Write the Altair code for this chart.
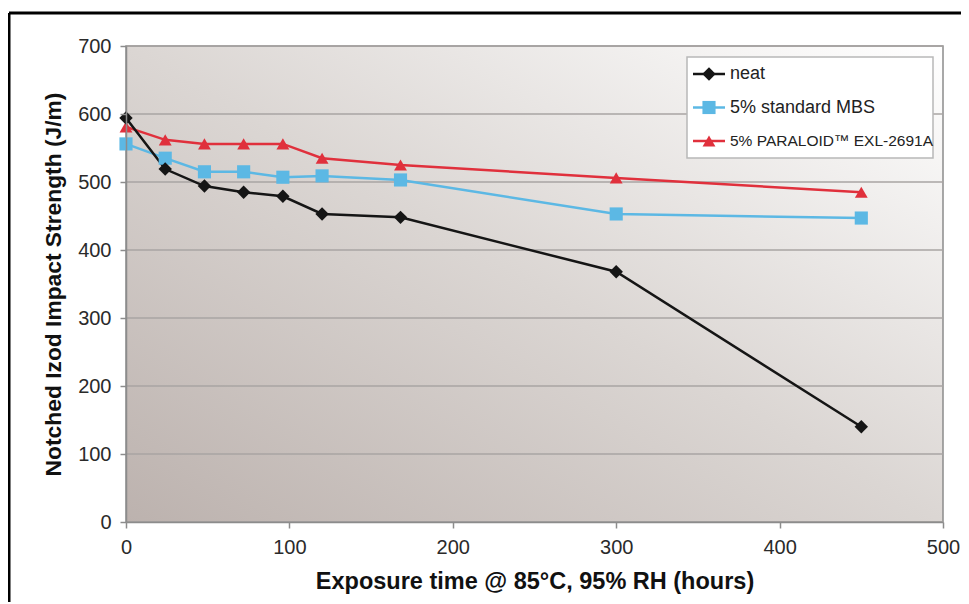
import altair as alt
import pandas as pd

# ---- data ----
hours = [0, 24, 48, 72, 96, 120, 168, 300, 450]
neat = [594, 519, 494, 485, 479, 453, 448, 368, 140]
mbs = [556, 535, 515, 515, 507, 509, 503, 453, 447]
paraloid = [581, 562, 556, 556, 556, 535, 525, 506, 485]

series = ["neat", "5% standard MBS", "5% PARALOID™ EXL-2691A"]
colors = ["#151515", "#5cb8e4", "#e0303c"]
shapes = ["diamond", "square", "triangle-up"]
marker_sizes = [180, 165, 240]

x_ticks = [0, 100, 200, 300, 400, 500]
y_ticks = [0, 100, 200, 300, 400, 500, 600, 700]

x_title = "Exposure time @ 85°C, 95% RH (hours)"
y_title = "Notched Izod Impact Strength (J/m)"

# ---- tables ----
rows = []
for name, vals in [(series[2], paraloid), (series[1], mbs), (series[0], neat)]:
    for h, v in zip(hours, vals):
        rows.append({"series": name, "hours": h, "value": v})
df = pd.DataFrame(rows)
grid_df = pd.DataFrame({"tick": y_ticks})
leg_df = pd.DataFrame({"series": series})
one = pd.DataFrame({"k": [0]})

W, H = 817, 476
FONT = "Liberation Sans"

color = alt.Color("series:N", scale=alt.Scale(domain=series, range=colors), legend=None)
shape = alt.Shape("series:N", scale=alt.Scale(domain=series, range=shapes), legend=None)
size = alt.Size("series:N", scale=alt.Scale(domain=series, range=marker_sizes), legend=None)

xs = alt.X("hours:Q", scale=alt.Scale(domain=[0, 500], nice=False),
           axis=alt.Axis(values=x_ticks, title=x_title, grid=False, labelPadding=9,
                         titlePadding=12, titleFontSize=23.5, zindex=1, labelFlush=False))
ys = alt.Y("value:Q", scale=alt.Scale(domain=[0, 700], nice=False),
           axis=alt.Axis(values=y_ticks, title=y_title, grid=False, labelPadding=9,
                         titlePadding=12, titleFontSize=22.8, zindex=1))

gradient = {
    "gradient": "linear", "x1": 0, "y1": 1, "x2": 1, "y2": 0,
    "stops": [
        {"offset": 0, "color": "#bcb2ae"},
        {"offset": 0.5, "color": "#dbd6d3"},
        {"offset": 1, "color": "#ffffff"},
    ],
}

bg = alt.Chart(one).mark_rect(color=gradient, stroke="#8c8c8c", strokeWidth=1.5).encode(
    x=alt.value(0), x2=alt.value(W), y=alt.value(0), y2=alt.value(H))

grid = alt.Chart(grid_df).mark_rule(color="#a8a5a3", strokeWidth=1.5).encode(
    y=alt.Y("tick:Q"), x=alt.value(0), x2=alt.value(W))

lines = alt.Chart(df).mark_line(strokeWidth=2.5).encode(
    x=xs, y=ys, color=color, detail="series:N", order="hours:Q")

points = alt.Chart(df).mark_point(filled=True, opacity=1).encode(
    x="hours:Q", y="value:Q", color=color, shape=shape, size=size)

frame_top = alt.Chart(one).mark_rule(color="#000000", strokeWidth=3, clip=False).encode(
    x=alt.value(-117), x2=alt.value(W + 200), y=alt.value(-33))
frame_left = alt.Chart(one).mark_rule(color="#000000", strokeWidth=3, clip=False).encode(
    x=alt.value(-117), y=alt.value(-33), y2=alt.value(H + 200))

main = alt.layer(bg, grid, lines, points, frame_top, frame_left)

# ---- legend ----
ly = alt.Y("series:N", scale=alt.Scale(type="point", domain=series, range=[28, 95], padding=0),
           axis=None)
box = alt.Chart(one).mark_rect(fill="#ffffff", stroke="#b8b8b8", strokeWidth=1.5).encode(
    x=alt.value(561), x2=alt.value(807), y=alt.value(11), y2=alt.value(112))
leg_lines = alt.Chart(leg_df).mark_rule(strokeWidth=2.5).encode(
    x=alt.value(567), x2=alt.value(599), y=ly, color=color)
leg_pts = alt.Chart(leg_df).mark_point(filled=True, opacity=1).encode(
    x=alt.value(583), y="series:N", color=color, shape=shape, size=size)
leg_txt = alt.Chart(leg_df).mark_text(align="left", baseline="middle", font=FONT,
                                      color="#222222").encode(
    x=alt.value(604), y="series:N", text="series:N",
    size=alt.condition(alt.datum.series == series[2], alt.value(15.5), alt.value(18)))
legend = alt.layer(box, leg_lines, leg_pts, leg_txt)

chart = alt.layer(main, legend).resolve_scale(y="independent").properties(
    width=W, height=H,
    autosize=alt.AutoSizeParams(type="none"),
    padding={"left": 118, "top": 38, "right": 18, "bottom": 80},
    background="#ffffff",
).configure_view(stroke=None).configure_axis(
    domainColor="#8c8c8c", domainWidth=1.5,
    tickColor="#8c8c8c", tickWidth=1.5, tickSize=6,
    labelFont=FONT, labelFontSize=20, labelColor="#2a2a2a",
    titleFont=FONT, titleFontSize=20, titleFontWeight="bold", titleColor="#111111",
)

chart.save("out.html", embed_options={"renderer": "svg", "actions": False})
